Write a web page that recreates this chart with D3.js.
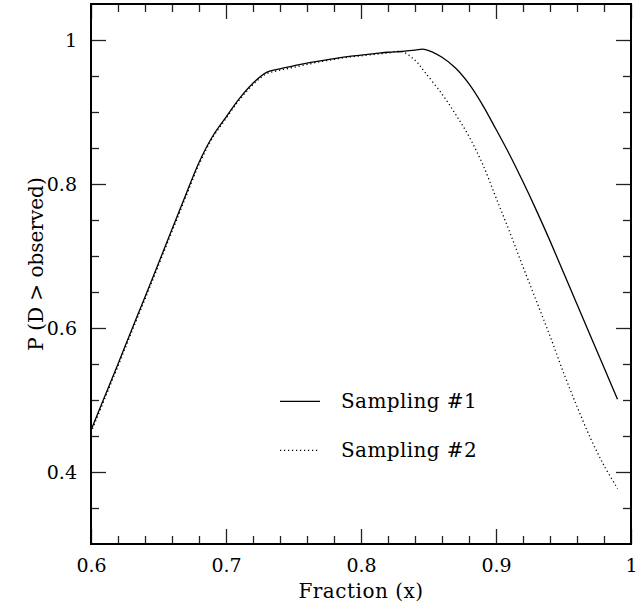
<!DOCTYPE html>
<html>
<head>
<meta charset="utf-8">
<script src="https://cdn.jsdelivr.net/npm/d3@7"></script>
<style>
  body { margin: 0; background: #fff; }
  svg text { font-family: "DejaVu Serif", serif; fill: #000; }
</style>
</head>
<body>
<div id="chart"></div>
<script>
// x grid (fraction) shared by both samplings
const fraction = [0.60, 0.61, 0.62, 0.63, 0.64, 0.65, 0.66, 0.67, 0.68, 0.69,
  0.70, 0.71, 0.72, 0.73, 0.74, 0.75, 0.76, 0.77, 0.78, 0.79,
  0.80, 0.81, 0.82, 0.83, 0.84, 0.847, 0.86, 0.87, 0.88, 0.89,
  0.90, 0.91, 0.92, 0.93, 0.94, 0.95, 0.96, 0.97, 0.98, 0.99];

const sampling1 = [0.458, 0.504, 0.550, 0.597, 0.643, 0.690, 0.737, 0.784, 0.830, 0.866,
  0.893, 0.919, 0.940, 0.955, 0.960, 0.964, 0.968, 0.971, 0.974, 0.977,
  0.979, 0.981, 0.983, 0.984, 0.986, 0.987, 0.976, 0.961, 0.939, 0.910,
  0.876, 0.841, 0.803, 0.763, 0.721, 0.677, 0.633, 0.589, 0.545, 0.501];

const sampling2 = [0.455, 0.501, 0.547, 0.594, 0.640, 0.687, 0.734, 0.781, 0.827, 0.864,
  0.891, 0.917, 0.938, 0.953, 0.958, 0.962, 0.966, 0.970, 0.973, 0.976,
  0.978, 0.980, 0.982, 0.984, 0.972, 0.956, 0.925, 0.897, 0.866, 0.828,
  0.781, 0.734, 0.685, 0.637, 0.589, 0.538, 0.491, 0.447, 0.409, 0.377];

const xMajor = [0.6, 0.7, 0.8, 0.9, 1];
const yMajor = [0.4, 0.6, 0.8, 1];
const legendLabels = ['Sampling #1', 'Sampling #2'];

const width = 643, height = 609;
const margin = { top: 4, right: 12, bottom: 65, left: 91 };
const innerW = width - margin.left - margin.right,
    innerH = height - margin.top - margin.bottom;

const x = d3.scaleLinear().domain([0.6, 1.0]).range([0, innerW]);
const y = d3.scaleLinear().domain([0.3, 1.05]).range([innerH, 0]);

const xMinor = d3.range(31, 50).map(function(i) { return i / 50; }).filter(function(v) { return Math.round(v * 50) % 5 !== 0; });
const yMinor = d3.range(7, 21).map(function(i) { return i / 20; }).filter(function(v) { return Math.round(v * 20) % 4 !== 0; });

const svg = d3.select('#chart').append('svg')
  .attr('width', width)
  .attr('height', height);

const g = svg.append('g').attr('transform', 'translate(' + margin.left + ',' + margin.top + ')');

const fmt = function(d) { return String(+d.toFixed(2)); };

function drawAxis(axis, tx, ty, labels) {
  const a = g.append('g').attr('transform', 'translate(' + tx + ',' + ty + ')').call(axis);
  a.select('.domain').remove();
  a.selectAll('line').attr('stroke', '#222').attr('stroke-width', 1.3);
  if (!labels) a.selectAll('text').remove();
  return a;
}

// major ticks (inside) on all four sides
const bottom = drawAxis(d3.axisBottom(x).tickValues(xMajor).tickSizeInner(-15).tickSizeOuter(0).tickFormat(fmt), 0, innerH, true);
bottom.selectAll('text').attr('font-size', 19).attr('dy', '1.3em');
drawAxis(d3.axisTop(x).tickValues(xMajor).tickSizeInner(-15).tickSizeOuter(0), 0, 0, false);
const left = drawAxis(d3.axisLeft(y).tickValues(yMajor).tickSizeInner(-15).tickSizeOuter(0).tickFormat(fmt), 0, 0, true);
left.selectAll('text').attr('font-size', 19).attr('x', -14);
drawAxis(d3.axisRight(y).tickValues(yMajor).tickSizeInner(-15).tickSizeOuter(0), innerW, 0, false);

// minor ticks
drawAxis(d3.axisBottom(x).tickValues(xMinor).tickSizeInner(-8).tickSizeOuter(0), 0, innerH, false);
drawAxis(d3.axisTop(x).tickValues(xMinor).tickSizeInner(-8).tickSizeOuter(0), 0, 0, false);
drawAxis(d3.axisLeft(y).tickValues(yMinor).tickSizeInner(-8).tickSizeOuter(0), 0, 0, false);
drawAxis(d3.axisRight(y).tickValues(yMinor).tickSizeInner(-8).tickSizeOuter(0), innerW, 0, false);

// frame
g.append('rect')
  .attr('width', innerW).attr('height', innerH)
  .attr('fill', 'none').attr('stroke', '#000').attr('stroke-width', 2);

const line = d3.line()
  .curve(d3.curveCatmullRom.alpha(0.5))
  .x(function(d) { return x(d[0]); })
  .y(function(d) { return y(d[1]); });

const styles = [
  { dash: null, width: 1.3 },
  { dash: '1.2,2.8', width: 1.3 }
];

[sampling1, sampling2].forEach(function(vals, i) {
  g.append('path')
    .datum(d3.zip(fraction, vals))
    .attr('fill', 'none')
    .attr('stroke', '#000')
    .attr('stroke-width', styles[i].width)
    .attr('stroke-dasharray', styles[i].dash)
    .attr('d', line);
});

// legend
const legend = g.append('g').attr('transform', 'translate(' + x(0.74) + ',' + y(0.498) + ')');
legendLabels.forEach(function(lbl, i) {
  const row = legend.append('g').attr('transform', 'translate(0,' + (i * 49) + ')');
  row.append('line')
    .attr('x1', 0).attr('x2', 40)
    .attr('stroke', '#000').attr('stroke-width', 1.2)
    .attr('stroke-dasharray', styles[i].dash);
  row.append('text')
    .attr('x', 61).attr('dy', '0.35em')
    .attr('font-size', 20)
    .attr('letter-spacing', 0.4)
    .text(lbl);
});

// axis titles
g.append('text')
  .attr('x', innerW / 2).attr('y', innerH + 54)
  .attr('text-anchor', 'middle')
  .attr('font-size', 20)
  .attr('letter-spacing', 0.5)
  .text('Fraction (x)');

g.append('text')
  .attr('transform', 'translate(' + (-48) + ',' + (innerH / 2 - 10) + ') rotate(-90)')
  .attr('text-anchor', 'middle')
  .attr('font-size', 20)
  .text('P (D > observed)');
</script>
</body>
</html>
